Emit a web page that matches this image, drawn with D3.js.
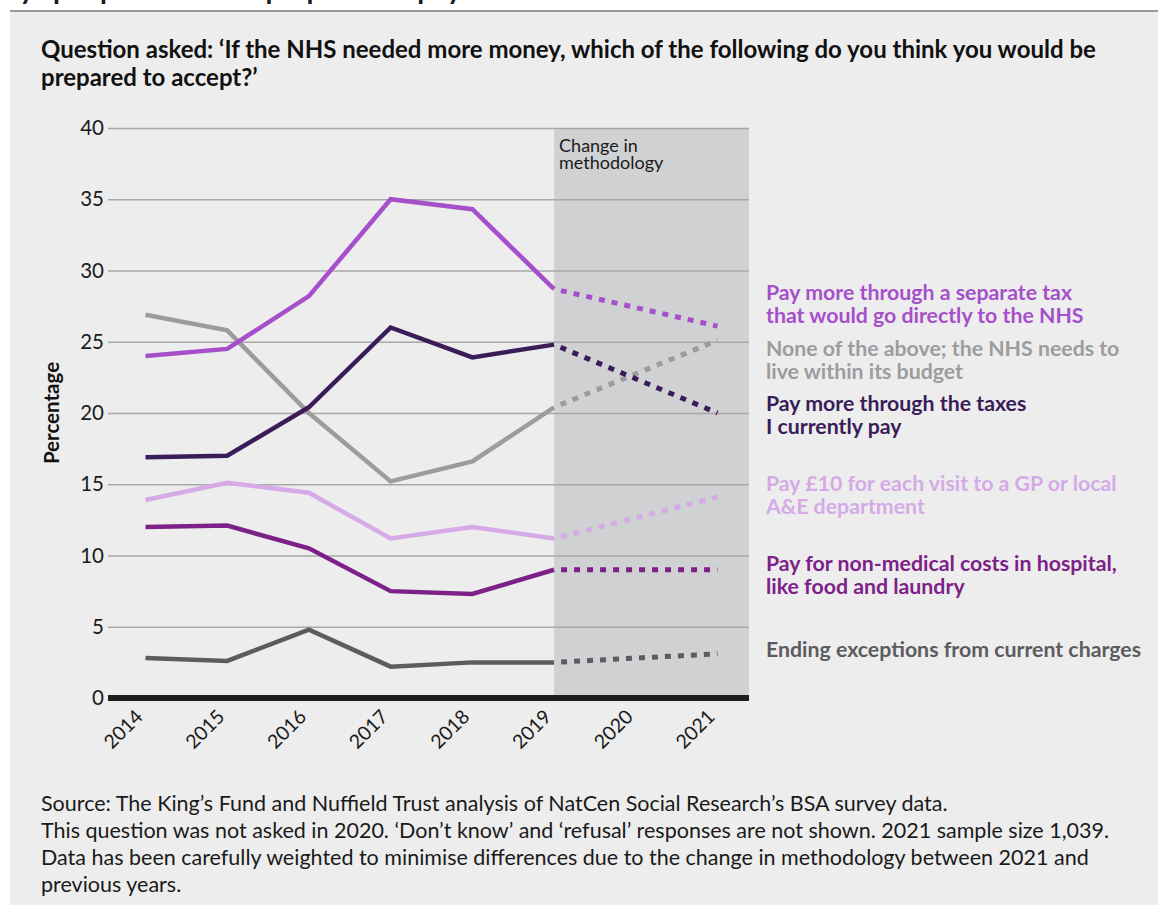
<!DOCTYPE html>
<html>
<head>
<meta charset="utf-8">
<script src="https://cdn.jsdelivr.net/npm/d3@7"></script>
<style>
  html, body { margin: 0; padding: 0; background: #ffffff; }
  svg { display: block; font-family: Lato, "Open Sans", sans-serif; }
</style>
</head>
<body>
<svg id="chart" width="1158" height="917"></svg>
<script>
// ---------- data ----------
const years = [2014, 2015, 2016, 2017, 2018, 2019, 2021];
const tickYears = [2014, 2015, 2016, 2017, 2018, 2019, 2020, 2021];
const yTicks = [0, 5, 10, 15, 20, 25, 30, 35, 40];

const separateTax  = [24.0, 24.5, 28.2, 35.0, 34.3, 28.7, 26.1];
const noneAbove    = [26.9, 25.8, 20.0, 15.2, 16.6, 20.4, 25.1];
const currentTaxes = [16.9, 17.0, 20.4, 26.0, 23.9, 24.8, 20.0];
const gpVisit      = [13.9, 15.1, 14.4, 11.2, 12.0, 11.2, 14.1];
const nonMedical   = [12.0, 12.1, 10.5, 7.5, 7.3, 9.0, 9.0];
const endingExcept = [2.8, 2.6, 4.8, 2.2, 2.5, 2.5, 3.1];

const seriesNames = [
  ["Pay more through a separate tax", "that would go directly to the NHS"],
  ["None of the above; the NHS needs to", "live within its budget"],
  ["Pay more through the taxes", "I currently pay"],
  ["Pay £10 for each visit to a GP or local", "A&E department"],
  ["Pay for non-medical costs in hospital,", "like food and laundry"],
  ["Ending exceptions from current charges"]
];
const seriesValues = [separateTax, noneAbove, currentTaxes, gpVisit, nonMedical, endingExcept];
const seriesColors = ["#a54fcb", "#9c9c9e", "#3a1d58", "#d5aae7", "#7d2189", "#5c5b60"];
const labelBaselines = [300, 356, 411, 491, 571, 657];

const questionLines = [
  "Question asked: \u2018If the NHS needed more money, which of the following do you think you would be",
  "prepared to accept?\u2019"
];
const footerLines = [
  "Source: The King\u2019s Fund and Nuffield Trust analysis of NatCen Social Research\u2019s BSA survey data.",
  "This question was not asked in 2020. \u2018Don\u2019t know\u2019 and \u2018refusal\u2019 responses are not shown. 2021 sample size 1,039.",
  "Data has been carefully weighted to minimise differences due to the change in methodology between 2021 and",
  "previous years."
];
const methodYear = 2019;

// ---------- layout ----------
const svg = d3.select("#chart");
const plotLeft = 108, plotRight = 749, plotTop = 128, plotBottom = 698;

const x = d3.scaleLinear().domain([2014, 2021]).range([145.5, 717.5]);
const y = d3.scaleLinear().domain([0, 40]).range([plotBottom, plotTop]);

// top fragment of heading (clipped by the page edge, as in the source) and rule
svg.append("text")
  .attr("x", -22).attr("y", -1)
  .attr("font-size", 28).attr("font-weight", 700).attr("fill", "#1a1a1a")
  .text("Ways people would be prepared to pay more for the NHS");
svg.append("rect").attr("x", 10).attr("y", 11).attr("width", 1148).attr("height", 894).attr("fill", "#ededed");
svg.append("line").attr("x1", 10).attr("x2", 1158).attr("y1", 11).attr("y2", 11)
  .attr("stroke", "#9a9a9a").attr("stroke-width", 2);

// question
svg.append("g").selectAll("text").data(questionLines).join("text")
  .attr("x", 41).attr("y", (d, i) => 58 + i * 28)
  .attr("font-size", 24).attr("font-weight", 700).attr("fill", "#111")
  .text(d => d);

// shaded methodology region
svg.append("rect")
  .attr("x", x(methodYear)).attr("y", plotTop)
  .attr("width", plotRight - x(methodYear)).attr("height", plotBottom - plotTop)
  .attr("fill", "#d0d1d3");
svg.append("g").selectAll("text").data(["Change in", "methodology"]).join("text")
  .attr("x", x(methodYear) + 5).attr("y", (d, i) => 152 + i * 17)
  .attr("font-size", 18).attr("fill", "#1a1a1a")
  .text(d => d);

// y axis with gridlines
const yAxis = svg.append("g")
  .attr("transform", `translate(${plotLeft},0)`)
  .call(d3.axisLeft(y).tickValues(yTicks).tickSize(-(plotRight - plotLeft)).tickPadding(4));
yAxis.select(".domain").remove();
yAxis.selectAll(".tick line").attr("stroke", "#a8a8a8").attr("stroke-width", 1.5);
yAxis.selectAll(".tick text").attr("font-size", 20.5).attr("fill", "#1a1a1a")
  .attr("font-family", "Lato, sans-serif");

// zero baseline
svg.append("line")
  .attr("x1", plotLeft).attr("x2", plotRight)
  .attr("y1", y(0)).attr("y2", y(0))
  .attr("stroke", "#1e1e1e").attr("stroke-width", 6);

// y title
svg.append("text")
  .attr("transform", `translate(59,${(plotTop + plotBottom) / 2}) rotate(-90)`)
  .attr("text-anchor", "middle")
  .attr("font-size", 20.5).attr("font-weight", 700).attr("fill", "#111")
  .text("Percentage");

// x axis
const xAxis = svg.append("g")
  .attr("transform", `translate(0,${plotBottom + 4})`)
  .call(d3.axisBottom(x).tickValues(tickYears).tickFormat(d3.format("d")).tickSize(0).tickPadding(0));
xAxis.select(".domain").remove();
xAxis.selectAll(".tick text")
  .attr("font-size", 19.5).attr("fill", "#1a1a1a").attr("font-family", "Lato, sans-serif")
  .attr("text-anchor", "end")
  .attr("dy", 0)
  .attr("transform", "translate(-2,16) rotate(-45)");

// lines
const line = d3.line().x(d => x(d[0])).y(d => y(d[1])).curve(d3.curveLinear);
const linesG = svg.append("g");
const drawOrder = [5, 4, 3, 1, 2, 0];
drawOrder.forEach(i => {
  const pts = years.map((yr, j) => [yr, seriesValues[i][j]]);
  const solid = pts.filter(p => p[0] <= methodYear);
  const dashed = pts.filter(p => p[0] >= methodYear);
  linesG.append("path").datum(solid)
    .attr("d", line).attr("fill", "none")
    .attr("stroke", seriesColors[i]).attr("stroke-width", 4.5)
    .attr("stroke-linejoin", "miter");
  linesG.append("path").datum(dashed)
    .attr("d", line).attr("fill", "none")
    .attr("stroke", seriesColors[i]).attr("stroke-width", 5)
    .attr("stroke-dasharray", "6,7").attr("stroke-dashoffset", 6);
});

// series labels
seriesNames.forEach((lines, i) => {
  svg.append("g").selectAll("text").data(lines).join("text")
    .attr("x", 766).attr("y", (d, k) => labelBaselines[i] + k * 23)
    .attr("font-size", 21.3).attr("font-weight", 700).attr("fill", seriesColors[i])
    .text(d => d);
});

// footer
svg.append("g").selectAll("text").data(footerLines).join("text")
  .attr("x", 41).attr("y", (d, i) => 811 + i * 27)
  .attr("font-size", 21.5).attr("fill", "#1a1a1a")
  .text(d => d);
</script>
</body>
</html>
